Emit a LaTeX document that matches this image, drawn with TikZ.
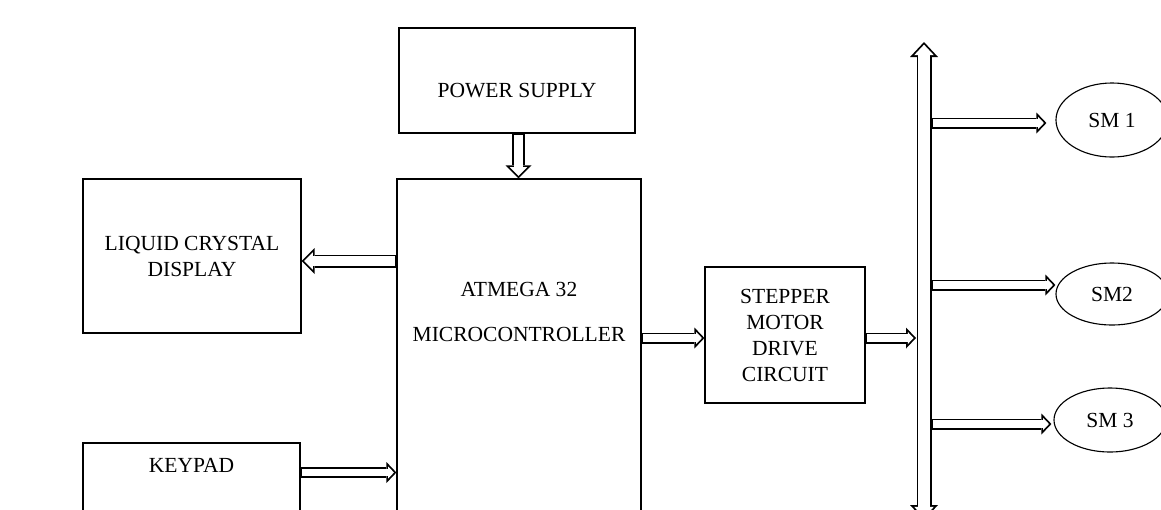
\documentclass[tikz,border=0pt]{standalone}
\usepackage{fontspec}
\setmainfont{Liberation Serif}
\usetikzlibrary{arrows.meta,calc,shapes.geometric}

\tikzset{
  blk/.style={draw, line width=0.8pt, inner sep=0pt},
  lbl/.style={font=\fontsize{15.3}{18.5}\selectfont, align=center},
  motor/.style={draw, ellipse, line width=0.8pt, inner sep=0pt, minimum width=2.8cm, font=\fontsize{15.3}{18.5}\selectfont},
  hollow/.style={line width=7.82pt, -{Triangle[width=14.94pt, length=7.11pt, line width=0pt]},
    postaction={draw=white, line width=5.26pt, shorten >=1.77pt, shorten <=1.28pt,
      -{Triangle[width=8.54pt, length=4.06pt, line width=0pt]}}},
  hollowbig/.style={line width=9.25pt, -{Triangle[width=18.49pt, length=9.25pt, line width=0pt]},
    postaction={draw=white, line width=6.69pt, shorten >=1.81pt, shorten <=1.28pt,
      -{Triangle[width=12.31pt, length=6.15pt, line width=0pt]}}},
  hollowbus/.style={line width=10.67pt,
    {Triangle[width=19.92pt, length=10.67pt, line width=0pt]}-{Triangle[width=19.92pt, length=10.67pt, line width=0pt]},
    postaction={draw=white, line width=8.11pt, shorten >=1.88pt, shorten <=1.88pt,
      {Triangle[width=14.01pt, length=7.51pt, line width=0pt]}-{Triangle[width=14.01pt, length=7.51pt, line width=0pt]}}}
}

\begin{document}
\begin{tikzpicture}[x=0.025cm, y=-0.025cm]
\clip (0,0) rectangle (1161,509);

% blocks
\node[blk, minimum width=5.9cm, minimum height=2.625cm] (power) at (517,80.5) {};
\node[lbl] (powertext) at (517,91) {POWER SUPPLY};
\node[blk, lbl, minimum width=5.45cm, minimum height=3.85cm] (lcd) at (192,256) {LIQUID CRYSTAL\\DISPLAY};
\node[blk, minimum width=6.1cm, minimum height=9.025cm] (mcu) at (519,359.5) {};
\node[lbl] (mcutext) at (519,312) {ATMEGA 32\\[14pt]MICROCONTROLLER};
\node[blk, minimum width=5.425cm, minimum height=2.425cm] (keypad) at (191.5,491.5) {};
\node[lbl] (keypadtext) at (191.5,465) {KEYPAD};
\node[blk, lbl, minimum width=4cm, minimum height=3.4cm] (stepper) at (785,335) {STEPPER\\MOTOR\\DRIVE\\CIRCUIT};

% motors
\node[motor, minimum height=1.85cm] (sm1) at (1112,120) {SM 1};
\node[motor, minimum height=1.55cm] (sm2) at (1112,294) {SM2};
\node[motor, minimum height=1.6cm] (sm3) at (1110,420) {SM 3};

% bus
\coordinate (bustop) at (924,42);
\coordinate (busbot) at (924,520);
\draw[hollowbus] (bustop) -- (busbot);

% connections
\coordinate (lcdin) at ($(lcd.east)+(0,5)$);
\coordinate (mcuout) at ($(stepper.west)+(0,3)$);
\coordinate (keyout) at ($(keypad.east)+(0,-19)$);
\draw[hollowbig] ($(power.south)+(1.5,0)$) -- ($(power.south |- mcu.north)+(1.5,0)$);
\draw[hollowbig] (mcu.west |- lcdin) -- (lcdin);
\draw[hollow] (mcu.east |- mcuout) -- (mcuout);
\draw[hollow] (keyout) -- (mcu.west |- keyout);
\draw[hollow] ($(stepper.east)+(0,3)$) -- ($(bustop |- stepper.east)+(-8,3)$);
\draw[hollow] ($(bustop |- sm1.west)+(7,3)$) -- ($(sm1.west)+(-9,3)$);
\draw[hollow] ($(bustop |- sm2.west)+(7,-9)$) -- ($(sm2.west)+(0,-9)$);
\draw[hollow] ($(bustop |- sm3.west)+(7,4)$) -- ($(sm3.west)+(-2,4)$);
\end{tikzpicture}
\end{document}
